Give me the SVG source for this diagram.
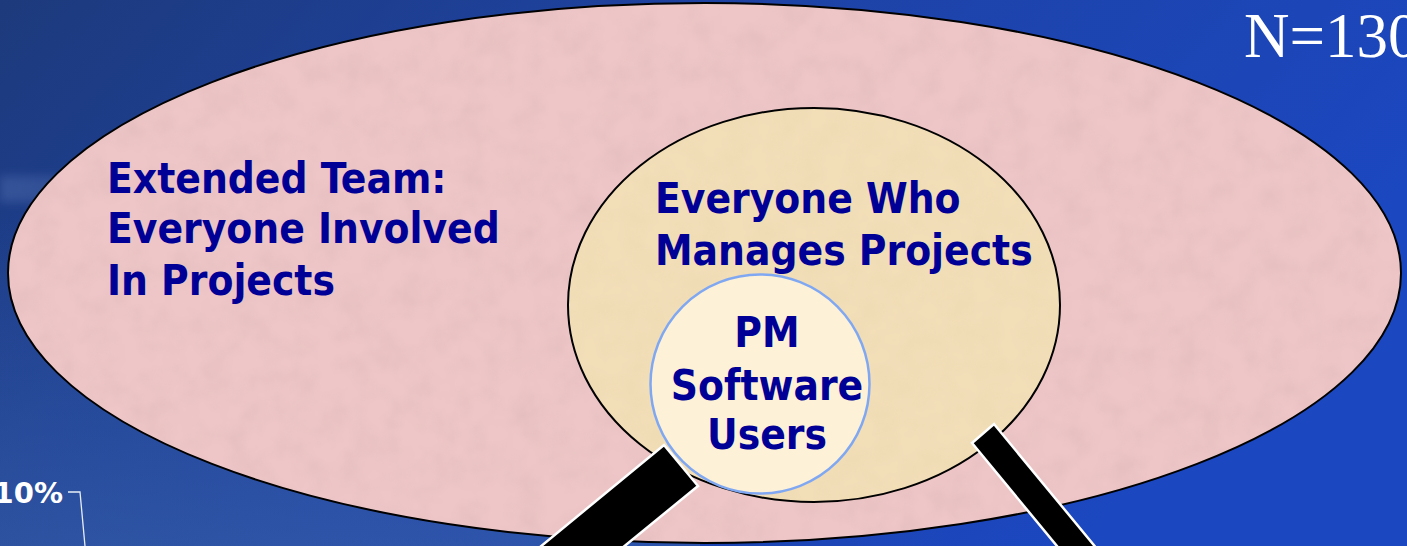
<svg xmlns="http://www.w3.org/2000/svg" width="1407" height="546" viewBox="0 0 1407 546">
<defs>
<linearGradient id="bg" x1="0" y1="0" x2="1" y2="0.35">
<stop offset="0" stop-color="#1d3a7c"/>
<stop offset="0.5" stop-color="#1e43a6"/>
<stop offset="1" stop-color="#1b47c0"/>
</linearGradient>
<linearGradient id="bgb" x1="0" y1="0" x2="0" y2="1">
<stop offset="0.4" stop-color="#3a62a8" stop-opacity="0"/>
<stop offset="1" stop-color="#3a62a8" stop-opacity="0.55"/>
</linearGradient>
<linearGradient id="streak" x1="0" y1="0" x2="1" y2="0">
<stop offset="0" stop-color="#8aa6d8" stop-opacity="0.22"/>
<stop offset="1" stop-color="#8aa6d8" stop-opacity="0"/>
</linearGradient>
<filter id="blur" x="-20%" y="-200%" width="140%" height="500%"><feGaussianBlur stdDeviation="5"/></filter>
<filter id="tex" x="0" y="0" width="100%" height="100%">
<feTurbulence type="fractalNoise" baseFrequency="0.035" numOctaves="3" seed="7" result="n"/>
<feColorMatrix in="n" type="matrix" values="0 0 0 0 0.6  0 0 0 0 0.4  0 0 0 0 0.4  0 0 0 0.45 -0.17" result="m"/>
<feComposite in="m" in2="SourceGraphic" operator="in" result="c"/>
<feMerge><feMergeNode in="SourceGraphic"/><feMergeNode in="c"/></feMerge>
</filter>
<filter id="tex2" x="0" y="0" width="100%" height="100%">
<feTurbulence type="fractalNoise" baseFrequency="0.04" numOctaves="3" seed="11" result="n"/>
<feColorMatrix in="n" type="matrix" values="0 0 0 0 0.78  0 0 0 0 0.64  0 0 0 0 0.4  0 0 0 0.4 -0.14" result="m"/>
<feComposite in="m" in2="SourceGraphic" operator="in" result="c"/>
<feMerge><feMergeNode in="SourceGraphic"/><feMergeNode in="c"/></feMerge>
</filter>
<style>
.lbl{font-family:"DejaVu Sans Condensed","DejaVu Sans",sans-serif;font-stretch:condensed;font-weight:bold;font-size:42px;fill:#000096}
.edge{fill:none;stroke:#000;stroke-width:2}
.bar{fill:#000;stroke:#fff;stroke-width:2.5;stroke-linejoin:miter}
</style>
</defs>
<rect width="1407" height="546" fill="url(#bg)"/>
<rect width="700" height="546" fill="url(#bgb)"/>
<rect x="0" y="176" width="260" height="26" fill="url(#streak)" filter="url(#blur)"/>

<g id="extended-team">
<ellipse cx="704.5" cy="273" rx="696.5" ry="270" fill="#eec6c7" filter="url(#tex)"/>
<ellipse cx="704.5" cy="273" rx="696.5" ry="270" class="edge"/>
<text class="lbl" x="107" y="193">Extended Team:</text>
<text class="lbl" x="107" y="243">Everyone Involved</text>
<text class="lbl" x="107" y="295">In Projects</text>
</g>

<g id="project-managers">
<ellipse cx="814" cy="305" rx="246" ry="197" fill="#f2deb7" filter="url(#tex2)"/>
<ellipse cx="814" cy="305" rx="246" ry="197" class="edge"/>
<text class="lbl" x="655" y="213">Everyone Who</text>
<text class="lbl" x="655" y="265">Manages Projects</text>
</g>

<g id="pm-software-users">
<circle cx="760" cy="384" r="109.5" fill="#fdf1d7" stroke="#80a8f2" stroke-width="2.5"/>
<text class="lbl" x="767" y="347" text-anchor="middle">PM</text>
<text class="lbl" x="767" y="400" text-anchor="middle">Software</text>
<text class="lbl" x="767" y="449" text-anchor="middle">Users</text>
</g>

<g id="n-label">
<text x="1244" y="57" font-family="'Liberation Serif',serif" font-size="63" fill="#fff">N=130</text>
</g>

<g id="pct-label">
<text x="63" y="503" text-anchor="end" font-family="'DejaVu Sans',sans-serif" font-weight="bold" font-size="29" fill="#fff">10%</text>
</g>

<g id="connectors">
<polygon class="bar" points="664,445 698,486 534,620 500,580"/>
<polygon class="bar" points="972,443 994,424 1121,578 1099,597"/>
<polyline points="68,492 80,492 85,546" fill="none" stroke="#e8eef8" stroke-width="1.3"/>
</g>
</svg>
